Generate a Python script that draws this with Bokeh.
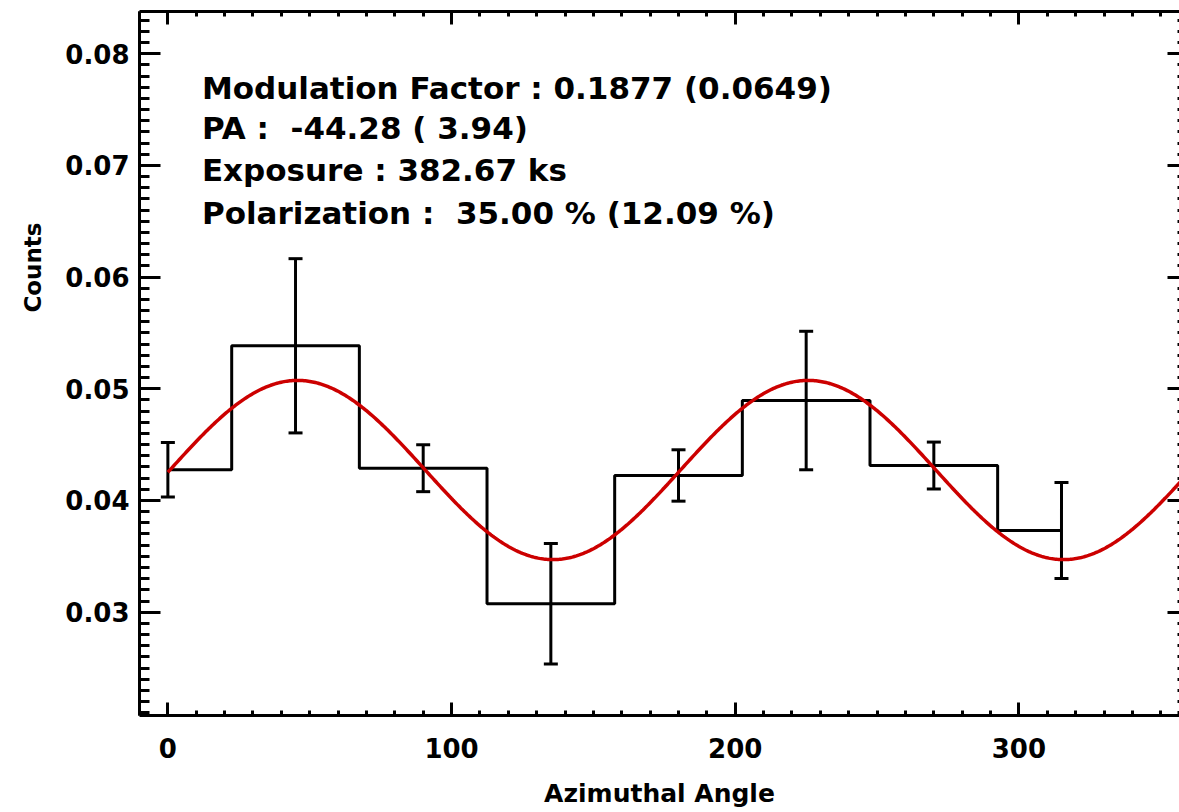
import numpy as np
from bokeh.plotting import figure
from bokeh.models import (Range1d, LinearAxis, SingleIntervalTicker, Whisker, TeeHead, Title,
                          ColumnDataSource, Label, PrintfTickFormatter, CustomJSTickFormatter)
from bokeh.embed import file_html
from bokeh.resources import INLINE

# ---- data ----
angles = [0, 45, 90, 135, 180, 225, 270, 315]
counts = [0.04275, 0.05385, 0.04289, 0.03075, 0.04224, 0.04895, 0.04313, 0.03731]
errors = [0.00244, 0.00780, 0.00210, 0.00540, 0.00230, 0.00620, 0.00210, 0.00430]

# fit parameters (model curve)
mean_counts = 0.04273
modulation_factor = 0.1877
position_angle = -44.28

NB = "\u00a0"
info_lines = [
    "Modulation Factor : 0.1877 (0.0649)",
    "PA : " + NB + "-44.28 (" + NB + "3.94)",
    "Exposure : 382.67 ks",
    "Polarization : " + NB + "35.00 % (12.09 %)",
]
info_y = [0.07689, 0.07331, 0.06955, 0.06570]

x_ticks_interval = 100
y_ticks_interval = 0.01

FONT = "DejaVu Sans"

p = figure(width=1179, height=812, output_backend="svg", toolbar_location=None,
           x_range=Range1d(-10, 356.6), y_range=Range1d(0.02075, 0.08378),
           min_border_left=138, min_border_right=0, min_border_top=11, min_border_bottom=97)
p.outline_line_color = None
p.grid.visible = False
p.background_fill_color = "white"
p.border_fill_color = "white"

xt = SingleIntervalTicker(interval=x_ticks_interval, num_minor_ticks=10)
yt = SingleIntervalTicker(interval=y_ticks_interval, num_minor_ticks=10)

xa = p.xaxis[0]
xa.ticker = xt
xa.formatter = PrintfTickFormatter(format="%d")
xa.axis_label = "Azimuthal Angle"
ya = p.yaxis[0]
ya.ticker = yt
ya.formatter = PrintfTickFormatter(format="%.2f")
ya.axis_label = None

for ax, maj, mnr in ((xa, 13, 5), (ya, 21, 10)):
    ax.axis_line_width = 3
    ax.major_tick_in = maj
    ax.major_tick_out = 0
    ax.minor_tick_in = mnr
    ax.minor_tick_out = 0
    ax.major_tick_line_width = 3
    ax.minor_tick_line_width = 3
    ax.major_label_text_font = FONT
    ax.major_label_text_font_size = "26px"
    ax.major_label_text_font_style = "bold"
    ax.major_label_text_color = "black"
    ax.axis_label_text_font = FONT
    ax.axis_label_text_font_size = "25px"
    ax.axis_label_text_font_style = "bold"
    ax.axis_label_text_color = "black"
    ax.axis_line_color = "black"
    ax.major_tick_line_color = "black"
    ax.minor_tick_line_color = "black"

xa.major_label_standoff = 22
xa.axis_label_standoff = 18
ya.major_label_standoff = 10

blank = CustomJSTickFormatter(code="return ''")

top = LinearAxis(ticker=SingleIntervalTicker(interval=x_ticks_interval, num_minor_ticks=10),
                 formatter=blank, major_label_text_font_size="0px", major_label_standoff=0,
                 axis_line_width=3, major_tick_in=13, major_tick_out=0, minor_tick_in=5,
                 minor_tick_out=0, major_tick_line_width=3, minor_tick_line_width=3)
p.add_layout(top, "above")

right = LinearAxis(ticker=SingleIntervalTicker(interval=y_ticks_interval, num_minor_ticks=10),
                   formatter=blank, major_label_text_font_size="0px", major_label_standoff=0,
                   axis_line_color=None, major_tick_in=12, major_tick_out=0, minor_tick_in=2,
                   minor_tick_out=0, major_tick_line_width=3, minor_tick_line_width=3)
p.add_layout(right, "right")

# y axis title, placed off-centre as in the original
p.add_layout(Title(text="Counts", align="right", offset=211, standoff=34, text_font=FONT,
                   text_font_size="23px", text_font_style="bold", text_color="black"), "left")

# histogram (IDL psym=10 style)
p.step(angles, counts, mode="center", line_width=3, line_color="black")

# error bars
src = ColumnDataSource(dict(
    x=angles,
    upper=[c + e for c, e in zip(counts, errors)],
    lower=[c - e for c, e in zip(counts, errors)],
))
wh = Whisker(base="x", upper="upper", lower="lower", source=src, line_width=3, line_color="black",
             upper_head=TeeHead(size=14, line_width=3, line_color="black"),
             lower_head=TeeHead(size=14, line_width=3, line_color="black"))
p.add_layout(wh)

# model curve
phi = np.linspace(0, 360, 721)
phase0 = position_angle + 90.0
model = mean_counts * (1 + modulation_factor * np.cos(np.radians(2 * (phi - phase0))))
p.line(phi, model, line_width=3.5, line_color="#cc0000")

for txt, yy in zip(info_lines, info_y):
    p.add_layout(Label(x=12, y=yy, text=txt, text_font=FONT, text_font_size="31px",
                       text_font_style="bold", text_baseline="middle", text_color="black"))

open("out.html", "w").write(file_html(p, INLINE))
